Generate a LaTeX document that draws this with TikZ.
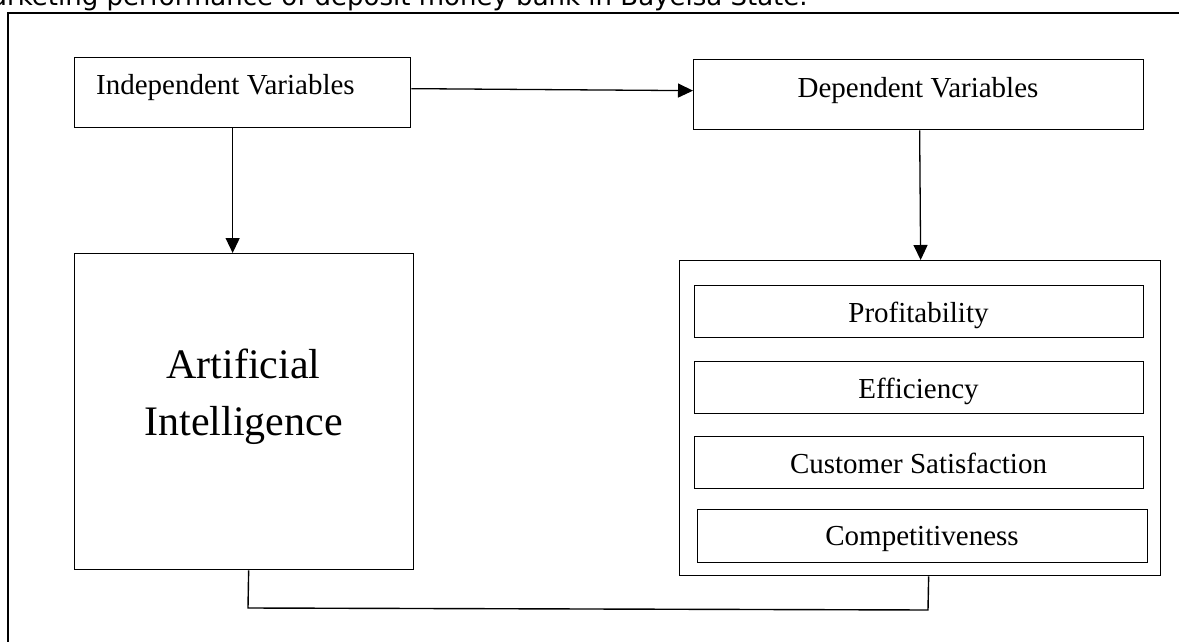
\documentclass[tikz,border=0pt]{standalone}
\usepackage{fontspec}
\setmainfont{Liberation Serif}
\newfontfamily\capfont{DejaVu Sans}
\usetikzlibrary{arrows.meta}
\begin{document}
\begin{tikzpicture}[x=1pt,y=-1pt,
  box/.style={draw,line width=1.3pt,inner sep=0pt,anchor=north west},
  lbl/.style={anchor=base,inner sep=0pt,font=\fontsize{29}{35}\selectfont},
  biglbl/.style={anchor=base,inner sep=0pt,font=\fontsize{42}{57}\selectfont},
  arr/.style={line width=1.3pt,-{Triangle[length=15pt,width=14pt]}},
  conn/.style={line width=1.4pt}]
\useasboundingbox (0,0) rectangle (1179,642);
% caption (cut off at top)
\node[anchor=base west,inner sep=0pt,font=\capfont\fontsize{26}{30}\selectfont] (cap) at (-9,6) {arketing performance of deposit money bank in Bayelsa State.};
% outer frame
\coordinate (fbl) at (8,700);
\coordinate (ftl) at (8,13);
\coordinate (ftr) at (1200,13);
\draw[line width=2pt] (fbl) -- (ftl) -- (ftr);
% boxes
\node[box,minimum width=336pt,minimum height=70pt] (iv) at (74,57) {};
\node[lbl,anchor=base west] (ivt) at (96,95) {Independent Variables};
\node[box,minimum width=450pt,minimum height=70pt] (dv) at (693,59) {};
\node[lbl] (dvt) at (918,97) {Dependent Variables};
\node[box,minimum width=339pt,minimum height=316pt] (ai) at (74,253) {};
\node[biglbl] (ait1) at (243.5,378) {Artificial};
\node[biglbl] (ait2) at (243.5,435) {Intelligence};
\node[box,minimum width=481pt,minimum height=315pt] (outer) at (679,260) {};
\node[box,minimum width=449pt,minimum height=52pt] (p1) at (694,285) {};
\node[lbl] (p1t) at (918.5,322) {Profitability};
\node[box,minimum width=449pt,minimum height=52pt] (p2) at (694,361) {};
\node[lbl] (p2t) at (918.5,398) {Efficiency};
\node[box,minimum width=449pt,minimum height=52pt] (p3) at (694,436) {};
\node[lbl] (p3t) at (918.5,473) {Customer Satisfaction};
\node[box,minimum width=450pt,minimum height=53pt] (p4) at (697,509) {};
\node[lbl] (p4t) at (922,545) {Competitiveness};
% arrows
\draw[arr] ([yshift=4pt]iv.east) -- ([yshift=4pt]dv.west);
\draw[arr] ([xshift=-10pt]iv.south) -- ([xshift=-11.5pt]ai.north);
\draw[arr] ([xshift=1pt]dv.south) -- ([xshift=0.5pt]outer.north);
% bottom connector
\coordinate (bl) at (248,608);
\coordinate (br) at (928,610);
\draw[conn] ([xshift=4.5pt]ai.south) -- (bl) -- (br) -- ([xshift=8.5pt]outer.south);
\end{tikzpicture}
\end{document}
